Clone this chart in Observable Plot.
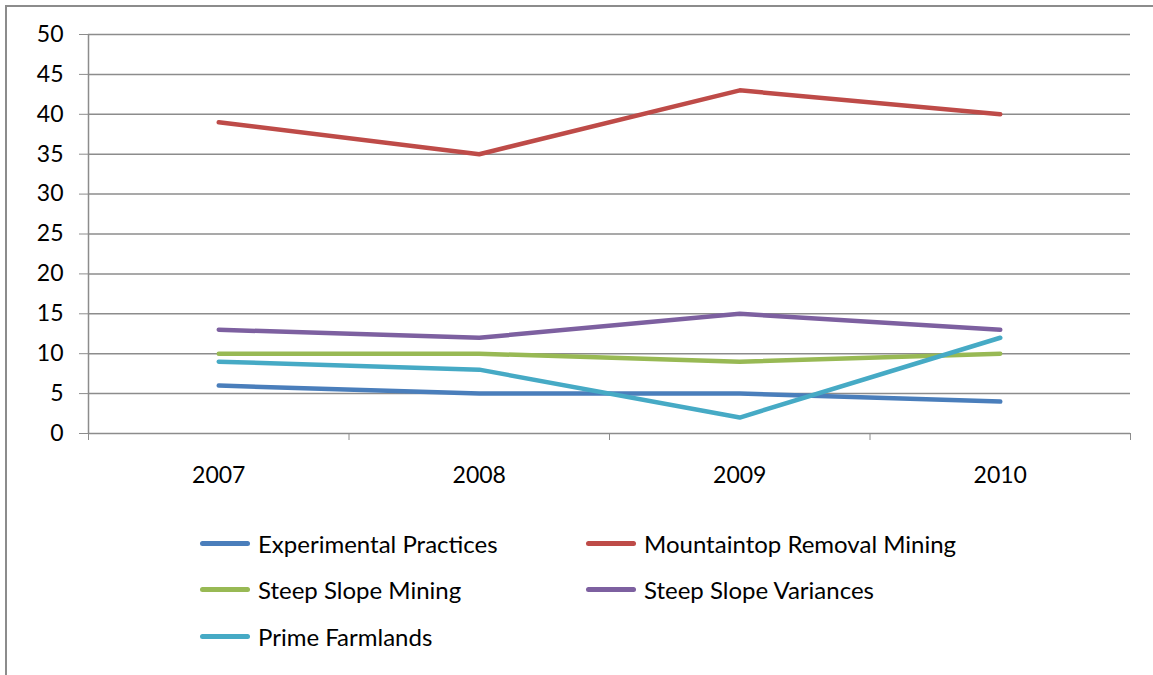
<!DOCTYPE html>
<html>
<head>
<meta charset="utf-8">
<script src="https://cdn.jsdelivr.net/npm/d3@7"></script>
<script src="https://cdn.jsdelivr.net/npm/@observablehq/plot@0.6"></script>
<style>
  html, body { margin: 0; padding: 0; background: #fff; width: 1153px; height: 675px; overflow: hidden; }
  #frame { position: absolute; left: 5px; top: 5px; width: 1170px; height: 700px; border: 2px solid #8c8c8c; box-sizing: border-box; }
  #chart { position: absolute; left: 0; top: 0; }
  .leg { position: absolute; font-family: Lato, "Open Sans", sans-serif; font-size: 24px; color: #000; display: flex; align-items: center; white-space: nowrap; }
  .sw { width: 50px; height: 5px; border-radius: 3px; margin-right: 8px; }
</style>
</head>
<body>
<div id="frame"></div>
<div id="chart"></div>
<div id="legend"></div>
<script>
const years = [2007, 2008, 2009, 2010];
const seriesNames = ["Experimental Practices", "Mountaintop Removal Mining", "Steep Slope Mining", "Steep Slope Variances", "Prime Farmlands"];
const experimental = [6, 5, 5, 4];
const mountaintop = [39, 35, 43, 40];
const steepMining = [10, 10, 9, 10];
const steepVariances = [13, 12, 15, 13];
const primeFarmlands = [9, 8, 2, 12];
const colors = ["#4A7EBB", "#BE4B48", "#98B954", "#7D60A0", "#46AAC5"];
const yTicks = d3.range(0, 51, 5);
const boundaries = [2006.5, 2007.5, 2008.5, 2009.5, 2010.5];

const allSeries = [experimental, mountaintop, steepMining, steepVariances, primeFarmlands];
const rows = [];
allSeries.forEach((vals, i) => vals.forEach((v, j) => rows.push({series: seriesNames[i], year: years[j], value: v})));

const font = "Lato, 'Open Sans', sans-serif";
const chart = Plot.plot({
  width: 1153,
  height: 520,
  marginLeft: 88,
  marginRight: 23,
  marginTop: 34,
  marginBottom: 87,
  style: {fontFamily: font, fontSize: "23px", color: "#000", background: "transparent", overflow: "visible"},
  x: {type: "linear", domain: [2006.5, 2010.5]},
  y: {domain: [0, 50]},
  color: {domain: seriesNames, range: colors},
  marks: [
    Plot.gridY(yTicks, {stroke: "#8c8c8c", strokeOpacity: 1, strokeWidth: 1.5}),
    Plot.ruleX([2006.5], {stroke: "#8c8c8c", strokeWidth: 1.5}),
    Plot.axisY(yTicks, {tickSize: 9, tickPadding: 16, stroke: "#8c8c8c", label: null, fill: "#000"}),
    Plot.axisX(boundaries, {tickSize: 7, tickFormat: () => "", stroke: "#8c8c8c", label: null}),
    Plot.axisX(years, {tickSize: 0, tickPadding: 33, tickFormat: d => String(d), label: null, fill: "#000"}),
    Plot.line(rows, {x: "year", y: "value", z: "series", stroke: "series", strokeWidth: 4.5, strokeLinecap: "round", strokeLinejoin: "round"})
  ]
});
document.getElementById("chart").appendChild(chart);

const legendPos = [[200, 545], [586, 545], [200, 591], [586, 591], [200, 638]];
const leg = document.getElementById("legend");
seriesNames.forEach((name, i) => {
  const d = document.createElement("div");
  d.className = "leg";
  d.style.left = legendPos[i][0] + "px";
  d.style.top = (legendPos[i][1] - 17) + "px";
  d.style.height = "30px";
  const sw = document.createElement("div");
  sw.className = "sw";
  sw.style.background = colors[i];
  d.appendChild(sw);
  const t = document.createElement("span");
  t.textContent = name;
  d.appendChild(t);
  leg.appendChild(d);
});
</script>
</body>
</html>
